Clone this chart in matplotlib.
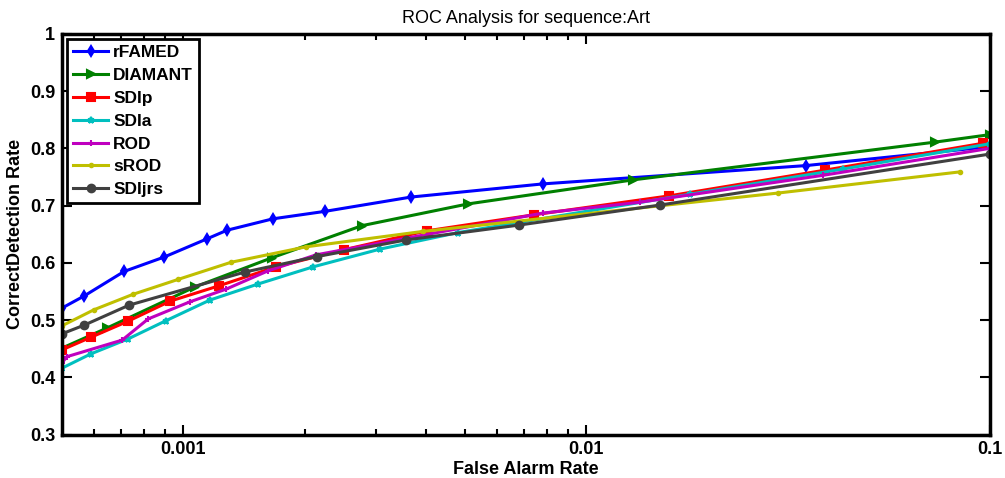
import matplotlib
matplotlib.use("Agg")
import matplotlib.pyplot as plt
from matplotlib.ticker import FixedLocator, NullFormatter, NullLocator

plt.rcParams['font.family'] = ['Liberation Sans', 'DejaVu Sans']

# ROC curves: false alarm rate (x) vs correct detection rate (y)
rfamed_x = [0.0005, 0.000567, 0.000713, 0.000895, 0.001145, 0.001283, 0.001669, 0.002246, 0.003671, 0.0078, 0.03505, 0.1]
rfamed_y = [0.521, 0.542, 0.585, 0.610, 0.642, 0.657, 0.677, 0.690, 0.715, 0.738, 0.770, 0.803]

diamant_x = [0.0005, 0.000646, 0.001069, 0.00166, 0.002774, 0.005084, 0.01305, 0.07322, 0.1]
diamant_y = [0.451, 0.486, 0.558, 0.609, 0.665, 0.703, 0.745, 0.811, 0.824]

sdip_x = [0.0005, 0.00059, 0.000729, 0.000927, 0.001227, 0.001698, 0.002504, 0.004023, 0.00741, 0.01602, 0.03906, 0.0963]
sdip_y = [0.448, 0.470, 0.498, 0.533, 0.560, 0.593, 0.623, 0.656, 0.684, 0.717, 0.762, 0.809]

sdia_x = [0.0005, 0.00059, 0.000729, 0.000906, 0.001164, 0.001532, 0.002098, 0.003075, 0.00481, 0.01806, 0.04331, 0.1]
sdia_y = [0.416, 0.441, 0.467, 0.499, 0.535, 0.563, 0.593, 0.624, 0.653, 0.720, 0.764, 0.808]

rod_x = [0.0005, 0.000514, 0.000705, 0.000818, 0.001039, 0.001276, 0.001622, 0.002134, 0.0078, 0.01358, 0.03863, 0.1]
rod_y = [0.425, 0.436, 0.465, 0.502, 0.532, 0.554, 0.586, 0.614, 0.687, 0.706, 0.753, 0.800]

srod_x = [0.0005, 0.0006, 0.00075, 0.00097, 0.001313, 0.002015, 0.003933, 0.02987, 0.08446]
srod_y = [0.490, 0.518, 0.545, 0.571, 0.601, 0.628, 0.655, 0.722, 0.759]

sdijrs_x = [0.0005, 0.000567, 0.000733, 0.001422, 0.002146, 0.003567, 0.0068, 0.01522, 0.1]
sdijrs_y = [0.476, 0.491, 0.526, 0.584, 0.611, 0.640, 0.666, 0.701, 0.790]

series = [
    ("rFAMED", rfamed_x, rfamed_y, (0, 0, 1), 'd', 5.5),
    ("DIAMANT", diamant_x, diamant_y, (0, 0.5, 0), '>', 5.5),
    ("SDIp", sdip_x, sdip_y, (1, 0, 0), 's', 6),
    ("SDIa", sdia_x, sdia_y, (0, 0.75, 0.75), '*', 5),
    ("ROD", rod_x, rod_y, (0.75, 0, 0.75), '+', 5),
    ("sROD", srod_x, srod_y, (0.75, 0.75, 0), '.', 5),
    ("SDIjrs", sdijrs_x, sdijrs_y, (0.25, 0.25, 0.25), 'o', 5.5),
]

fig = plt.figure(figsize=(10.05, 4.78), dpi=100)
ax = fig.add_axes([0.0617, 0.091, 0.9229, 0.8379])

for name, xs, ys, col, mk, ms in series:
    ax.plot(xs, ys, color=col, lw=2.2, marker=mk, markersize=ms,
            markeredgewidth=1.5, label=name, clip_on=True)

ax.set_xscale('log')
ax.set_xlim(0.0005, 0.1)
ax.set_ylim(0.3, 1.0)

ax.xaxis.set_major_locator(FixedLocator([0.001, 0.01, 0.1]))
ax.xaxis.set_minor_locator(FixedLocator([0.0006, 0.0007, 0.0008, 0.0009,
                                         0.002, 0.003, 0.004, 0.005, 0.006,
                                         0.007, 0.008, 0.009]))
ax.xaxis.set_minor_formatter(NullFormatter())
ax.set_xticklabels(['0.001', '0.01', '0.1'])
ax.set_yticks([0.3, 0.4, 0.5, 0.6, 0.7, 0.8, 0.9, 1.0])
ax.set_yticklabels(['0.3', '0.4', '0.5', '0.6', '0.7', '0.8', '0.9', '1'])
ax.yaxis.set_minor_locator(NullLocator())

ax.tick_params(axis='both', which='both', direction='in', top=True, right=True,
               width=1.5, labelsize=13)
ax.tick_params(axis='both', which='major', length=7, pad=5)
ax.tick_params(axis='x', which='minor', length=4)
for lab in ax.get_xticklabels() + ax.get_yticklabels():
    lab.set_fontweight('bold')

for sp in ax.spines.values():
    sp.set_linewidth(2.5)

ax.set_title("ROC Analysis for sequence:Art", fontsize=13, pad=8)
ax.set_xlabel("False Alarm Rate", fontsize=13, fontweight='bold', labelpad=2)
ax.set_ylabel("CorrectDetection Rate", fontsize=13, fontweight='bold', labelpad=4)

leg = ax.legend(loc='upper left', prop={'weight': 'bold', 'size': 12.5},
                fancybox=False, edgecolor='black', framealpha=1,
                handlelength=2.0, handletextpad=0.3, borderpad=0.35,
                labelspacing=0.44, borderaxespad=0.3)
leg.get_frame().set_linewidth(2)

fig.savefig("out.png", dpi=100)
